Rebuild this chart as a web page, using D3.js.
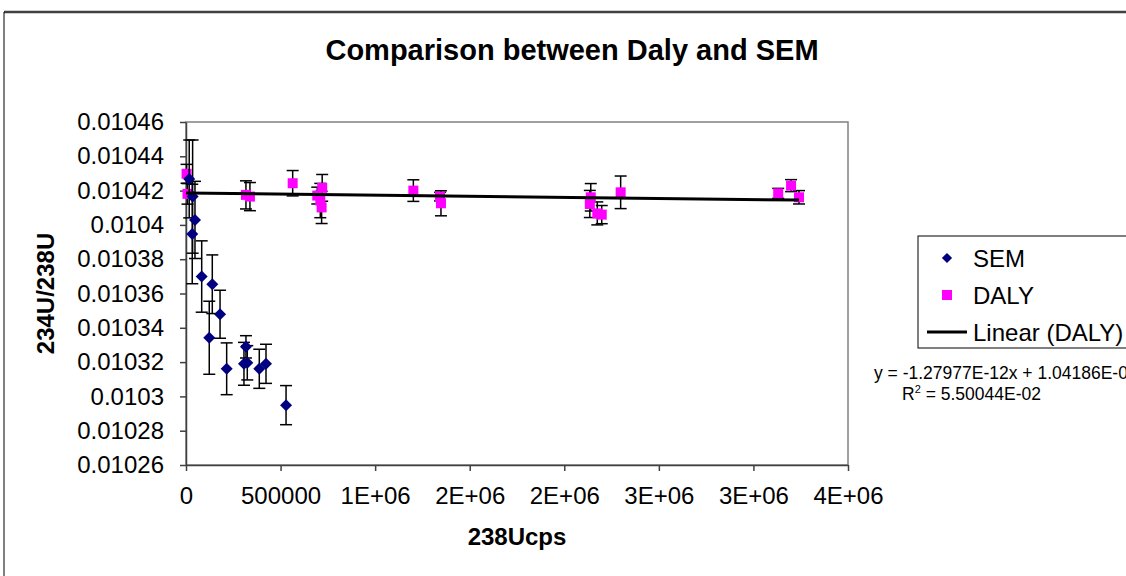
<!DOCTYPE html>
<html>
<head>
<meta charset="utf-8">
<script src="https://cdn.jsdelivr.net/npm/d3@7"></script>
<style>
  body { margin: 0; background: #fff; }
  svg { font-family: Arial, "Liberation Sans", sans-serif; }
</style>
</head>
<body>
<svg id="chart" width="1126" height="576"></svg>
<script>
// SEM series
var semX = [17000, 35000, 47500, 33000, 83000, 139000, 180000, 123000, 215000, 317000, 306500, 324000, 387500, 423000, 529000]
var semY = [0.0104268, 0.0104165, 0.0104029, 0.0103947, 0.0103699, 0.0103654, 0.0103479, 0.0103342, 0.0103161, 0.0103289, 0.010319, 0.0103196, 0.0103161, 0.010319, 0.0102949]
var semErr = [0.0000227, 0.000033, 0.0000225, 0.000029, 0.0000208, 0.0000171, 0.000014, 0.0000213, 0.0000151, 0.0000065, 0.0000125, 0.00001, 0.0000114, 0.0000114, 0.0000114]

// DALY series
var dalyX = [3000, 8000, 317000, 338000, 564000, 720000, 694000, 710000, 717000, 1202000, 1343000, 1348000, 2140000, 2135000, 2174500, 2198000, 2298000, 3131000, 3199000, 3241000]
var dalyY = [0.0104298, 0.0104181, 0.0104175, 0.0104165, 0.0104243, 0.0104216, 0.0104171, 0.0104142, 0.0104102, 0.01042, 0.0104165, 0.0104126, 0.0104161, 0.0104122, 0.0104067, 0.010406, 0.010419, 0.0104184, 0.0104229, 0.0104161]
var dalyErr = [0.0000055, 0.000006, 0.0000082, 0.0000082, 0.0000074, 0.0000078, 0.0000049, 0.00001, 0.0000094, 0.0000063, 0.0000025, 0.0000073, 0.000008, 0.0000079, 0.0000067, 0.0000053, 0.0000095, 0.0000029, 0.0000035, 0.0000039]

// linear trendline for DALY
var slope = -1.27977e-12
var intercept = 1.04186e-02

var xTicks = [0, 500000, 1000000, 1500000, 2000000, 2500000, 3000000, 3500000]
var xTickLabels = ["0", "500000", "1E+06", "2E+06", "2E+06", "3E+06", "3E+06", "4E+06"]
var yTicks = [0.01026, 0.01028, 0.0103, 0.01032, 0.01034, 0.01036, 0.01038, 0.0104, 0.01042, 0.01044, 0.01046]
var yTickLabels = ["0.01026", "0.01028", "0.0103", "0.01032", "0.01034", "0.01036", "0.01038", "0.0104", "0.01042", "0.01044", "0.01046"]

var svg = d3.select("#chart")

var pL = 186, pR = 848, pT = 122, pB = 465

var x = d3.scaleLinear().domain([0, 3500000]).range([pL, pR])
var y = d3.scaleLinear().domain([0.01026, 0.01046]).range([pB, pT])

// chart area border (cut off on right and bottom)
svg.append("line").attr("x1", 4).attr("y1", 12).attr("x2", 1126).attr("y2", 12)
    .style("stroke", "#404040").style("stroke-width", 2.5)
svg.append("line").attr("x1", 4).attr("y1", 12).attr("x2", 4).attr("y2", 576)
    .style("stroke", "#000").style("stroke-width", 1)

// plot area border
svg.append("rect").attr("x", pL).attr("y", pT).attr("width", pR - pL).attr("height", pB - pT)
    .style("fill", "#fff").style("stroke", "#808080").style("stroke-width", 1.5)

// title
svg.append("text").attr("x", 572).attr("y", 60).attr("text-anchor", "middle")
    .style("font-size", "29px").style("font-weight", "bold").text("Comparison between Daly and SEM")

// axes
var xAxis = svg.append("g").attr("transform", "translate(0," + pB + ")")
    .call(d3.axisBottom(x).tickValues(xTicks).tickSize(6).tickSizeOuter(0)
        .tickFormat(function(d, i){ return xTickLabels[i]; }))
xAxis.selectAll("text").style("font-size", "24px").attr("dy", "30px").style("font-family", "Arial, 'Liberation Sans', sans-serif")

var yAxis = svg.append("g").attr("transform", "translate(" + pL + ",0)")
    .call(d3.axisLeft(y).tickValues(yTicks).tickSize(6).tickSizeOuter(0)
        .tickFormat(function(d, i){ return yTickLabels[i]; }))
yAxis.selectAll("text").style("font-size", "24px").attr("x", -22).style("font-family", "Arial, 'Liberation Sans', sans-serif")

svg.selectAll(".domain, .tick line").style("stroke", "#404040").style("stroke-width", 1.5)

// axis titles
svg.append("text").attr("x", (pL + pR) / 2).attr("y", 545).attr("text-anchor", "middle")
    .style("font-size", "24px").style("font-weight", "bold").text("238Ucps")
svg.append("text").attr("transform", "translate(54," + ((pT + pB) / 2) + ") rotate(-90)")
    .attr("text-anchor", "middle").style("font-size", "24px").style("font-weight", "bold").text("234U/238U")

function errorBars(xs, ys, es){
    var g = svg.append("g").style("stroke", "#000").style("stroke-width", 1.5)
    xs.forEach(function(d, i){
        var px = x(d), y1 = y(ys[i] + es[i]), y2 = y(ys[i] - es[i])
        g.append("line").attr("x1", px).attr("x2", px).attr("y1", y1).attr("y2", y2)
        g.append("line").attr("x1", px - 6).attr("x2", px + 6).attr("y1", y1).attr("y2", y1)
        g.append("line").attr("x1", px - 6).attr("x2", px + 6).attr("y1", y2).attr("y2", y2)
    })
}

var diamond = "M0,-6L6,0L0,6L-6,0Z"

// DALY
errorBars(dalyX, dalyY, dalyErr)
svg.append("g").selectAll("rect").data(dalyX).enter().append("rect")
    .attr("x", function(d){ return x(d) - 5; })
    .attr("y", function(d, i){ return y(dalyY[i]) - 5; })
    .attr("width", 10).attr("height", 10)
    .style("fill", "#ff00ff")

// SEM
errorBars(semX, semY, semErr)
svg.append("g").selectAll("path").data(semX).enter().append("path")
    .attr("d", diamond)
    .attr("transform", function(d, i){ return "translate(" + x(d) + "," + y(semY[i]) + ")"; })
    .style("fill", "#000080")

// trendline over DALY x range
var xMax = d3.max(dalyX)
svg.append("line")
    .attr("x1", x(0)).attr("y1", y(intercept + slope * 0))
    .attr("x2", x(xMax)).attr("y2", y(intercept + slope * xMax))
    .style("stroke", "#000").style("stroke-width", 3)

// legend
var lg = svg.append("g")
lg.append("rect").attr("x", 918).attr("y", 236).attr("width", 240).attr("height", 112)
    .style("fill", "#fff").style("stroke", "#000").style("stroke-width", 1)
lg.append("path").attr("d", diamond).attr("transform", "translate(947,258) scale(0.85)").style("fill", "#000080")
lg.append("rect").attr("x", 942).attr("y", 290).attr("width", 10).attr("height", 10).style("fill", "#ff00ff")
lg.append("line").attr("x1", 927).attr("x2", 967).attr("y1", 332).attr("y2", 332)
    .style("stroke", "#000").style("stroke-width", 3)
var legendNames = ["SEM", "DALY", "Linear (DALY)"]
lg.selectAll("text").data(legendNames).enter().append("text")
    .attr("x", 973).attr("y", function(d, i){ return 267 + i * 37; })
    .style("font-size", "24px").text(function(d){ return d; })

// trendline equation
svg.append("text").attr("x", 874).attr("y", 379).style("font-size", "17.5px")
    .text("y = -1.27977E-12x + 1.04186E-02")
var r2 = svg.append("text").attr("x", 902).attr("y", 400).style("font-size", "17.5px")
r2.append("tspan").text("R")
r2.append("tspan").attr("dy", -7).style("font-size", "11px").text("2")
r2.append("tspan").attr("dy", 7).text(" = 5.50044E-02")
</script>
</body>
</html>
